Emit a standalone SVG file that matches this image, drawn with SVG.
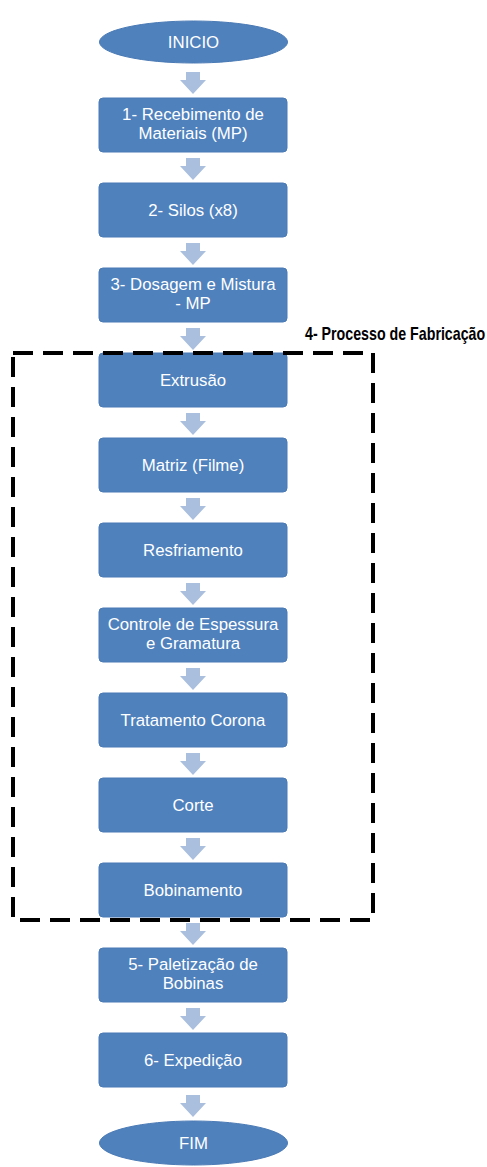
<svg xmlns="http://www.w3.org/2000/svg" width="487" height="1167" viewBox="0 0 487 1167">
<style>
.box{fill:#4F81BD;stroke:#4A7AB5;stroke-width:1}
.t{font-family:"Liberation Sans",Arial,sans-serif;font-size:16.8px;fill:#FFFFFF;text-anchor:middle}
.arr{fill:#A9BFDD}
.lbl{font-family:"Liberation Sans",Arial,sans-serif;font-size:18px;font-weight:bold;fill:#000}
</style>
<defs>
<path id="ar" d="M-7,0 H7 V8 H13 L0,22 L-13,8 H-7 Z"/>
</defs>
<rect x="0" y="0" width="487" height="1167" fill="#FFFFFF"/>
<g id="connectors">
<use href="#ar" class="arr" x="193" y="72"/>
<use href="#ar" class="arr" x="193" y="158"/>
<use href="#ar" class="arr" x="193" y="243"/>
<use href="#ar" class="arr" x="193" y="328"/>
<use href="#ar" class="arr" x="193" y="413"/>
<use href="#ar" class="arr" x="193" y="498"/>
<use href="#ar" class="arr" x="193" y="583"/>
<use href="#ar" class="arr" x="193" y="668"/>
<use href="#ar" class="arr" x="193" y="753"/>
<use href="#ar" class="arr" x="193" y="838"/>
<use href="#ar" class="arr" x="193" y="923"/>
<use href="#ar" class="arr" x="193" y="1008"/>
<use href="#ar" class="arr" x="193" y="1095"/>
</g>
<g id="inicio"><ellipse cx="193.5" cy="42" rx="94" ry="21" class="box"/><text x="193.5" y="48" class="t">INICIO</text></g>
<g id="n1"><rect x="99" y="98" width="188" height="54" rx="4" class="box"/><text x="193" y="120" class="t">1- Recebimento de</text><text x="193" y="139" class="t">Materiais (MP)</text></g>
<g id="n2"><rect x="99" y="183" width="188" height="54" rx="4" class="box"/><text x="193" y="216" class="t">2- Silos (x8)</text></g>
<g id="n3"><rect x="99" y="268" width="188" height="54" rx="4" class="box"/><text x="193" y="290" class="t">3- Dosagem e Mistura</text><text x="193" y="309" class="t">- MP</text></g>
<g id="n4a"><rect x="99" y="353" width="188" height="54" rx="4" class="box"/><text x="193" y="386" class="t">Extrusão</text></g>
<g id="n4b"><rect x="99" y="438" width="188" height="54" rx="4" class="box"/><text x="193" y="471" class="t">Matriz (Filme)</text></g>
<g id="n4c"><rect x="99" y="523" width="188" height="54" rx="4" class="box"/><text x="193" y="556" class="t">Resfriamento</text></g>
<g id="n4d"><rect x="99" y="608" width="188" height="54" rx="4" class="box"/><text x="193" y="630" class="t">Controle de Espessura</text><text x="193" y="649" class="t">e  Gramatura</text></g>
<g id="n4e"><rect x="99" y="693" width="188" height="54" rx="4" class="box"/><text x="193" y="726" class="t">Tratamento Corona</text></g>
<g id="n4f"><rect x="99" y="778" width="188" height="54" rx="4" class="box"/><text x="193" y="811" class="t">Corte</text></g>
<g id="n4g"><rect x="99" y="863" width="188" height="54" rx="4" class="box"/><text x="193" y="896" class="t">Bobinamento</text></g>
<g id="n5"><rect x="99" y="948" width="188" height="54" rx="4" class="box"/><text x="193" y="970" class="t">5- Paletização de</text><text x="193" y="989" class="t">Bobinas</text></g>
<g id="n6"><rect x="99" y="1033" width="188" height="54" rx="4" class="box"/><text x="193" y="1066" class="t">6- Expedição</text></g>
<g id="fim"><ellipse cx="193.5" cy="1143" rx="94" ry="22" class="box"/><text x="193.5" y="1149" class="t">FIM</text></g>
<g id="group4">
<rect x="13" y="353" width="360" height="567" fill="none" stroke="#000" stroke-width="4" stroke-dasharray="20 10"/>
<text class="lbl" transform="translate(305,340) scale(0.79,1)">4- Processo de Fabricação</text>
</g>
</svg>
